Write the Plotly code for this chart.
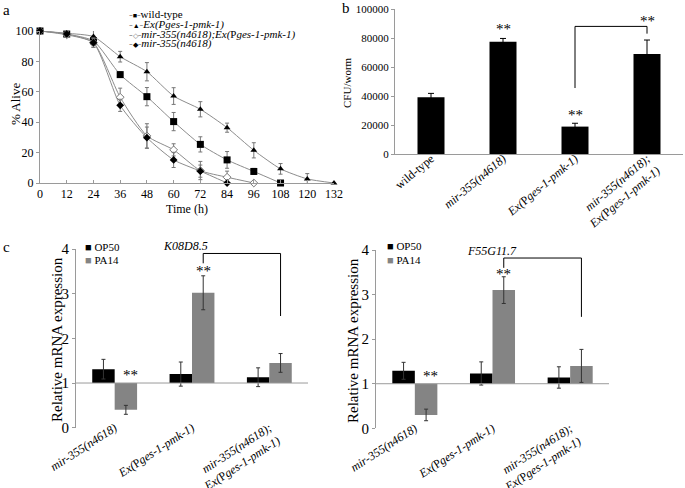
import plotly.graph_objects as go

W, H = 685, 488
FONT = "Liberation Serif"

# ---------------- data ----------------
time_h = [0, 12, 24, 36, 48, 60, 72, 84, 96, 108, 120, 132]
wt_alive = [100, 98, 93.5, 71.3, 56.8, 40.4, 25.4, 15.2, 7.6, 0]
wt_err = [0, 1.5, 3, 1.8, 6, 6, 5, 5.5, 2, 0]
ex_alive = [100, 98.5, 96.3, 83.1, 73.2, 57.2, 48.5, 36.4, 21.5, 9.3, 2.7, 0]
ex_err = [0, 1, 4, 3.5, 6, 5.5, 5, 3, 5, 3.5, 3.5, 0]
mirex_alive = [100, 97.5, 92.3, 56.4, 31, 21.8, 8.2, 3.8, 0]
mirex_err = [0, 1.5, 3, 6, 8, 4, 6, 4, 0]
mir_alive = [100, 98, 92.3, 51.1, 29.8, 15.2, 7.8, 0]
mir_err = [0, 1.5, 3, 4, 7, 5, 4, 0]

b_cats = ["wt", "mir", "ex", "mirex"]
b_labels = ["wild-type", "<i>mir-355(n4618)</i>", "<i>Ex(</i>P<i>ges-1-pmk-1)</i>",
            "<i>mir-355(n4618);</i><br><i>Ex(</i>P<i>ges-1-pmk-1)</i>"]
b_cfu = [39100, 77400, 18900, 69000]
b_err = [2700, 2300, 2300, 9600]

c_cats = ["mir", "ex", "mirex"]
c_labels = ["<i>mir-355(n4618)</i>", "<i>Ex(</i>P<i>ges-1-pmk-1)</i>",
            "<i>mir-355(n4618);</i><br><i>Ex(</i>P<i>ges-1-pmk-1)</i>"]
k08_op50 = [1.31, 1.20, 1.13]
k08_op50_err = [0.22, 0.27, 0.21]
k08_pa14 = [0.40, 3.02, 1.45]
k08_pa14_err = [0.10, 0.38, 0.21]
f55_op50 = [1.29, 1.23, 1.14]
f55_op50_err = [0.19, 0.26, 0.24]
f55_pa14 = [0.30, 3.10, 1.40]
f55_pa14_err = [0.13, 0.30, 0.37]
BASE = 1.0

GRAY = "#848484"
AX = "#9a9a9a"
LINE = "#8c8c8c"


def px(x):
    return x / W


def py(y):
    return 1 - y / H


fig = go.Figure()

# ---------------- panel a ----------------
series_a = [
    ("wild-type", wt_alive, wt_err, dict(symbol="square", size=7, color="black"),
     "■", "black"),
    ("<i>Ex(Pges-1-pmk-1)</i>", ex_alive, ex_err,
     dict(symbol="triangle-up", size=6, color="black"), "▲", "black"),
    ("<i>mir-355(n4618);Ex(</i>P<i>ges-1-pmk-1)</i>", mirex_alive, mirex_err,
     dict(symbol="diamond", size=6, color="white", line=dict(color="#777", width=1)),
     "◇", "#777"),
    ("<i>mir-355(n4618)</i>", mir_alive, mir_err,
     dict(symbol="diamond", size=6, color="black"), "◆", "black"),
]
for name, vals, err, mk, _, _ in series_a:
    fig.add_trace(go.Scatter(
        x=time_h[:len(vals)], y=vals, name=name, mode="lines+markers",
        line=dict(color=LINE, width=1, shape="spline", smoothing=0.6),
        marker=mk, cliponaxis=False, showlegend=False,
        error_y=dict(type="data", array=err, color="#777", thickness=1, width=2),
        xaxis="x", yaxis="y"))

# ---------------- panel b ----------------
fig.add_trace(go.Bar(
    x=b_cats, y=b_cfu, width=0.375, marker=dict(color="black", line=dict(width=0)),
    error_y=dict(type="data", array=b_err, color="black", thickness=1, width=3),
    xaxis="x2", yaxis="y2", showlegend=False))

# ---------------- panel c ----------------
for op, ope, pa, pae, xa, ya in [
        (k08_op50, k08_op50_err, k08_pa14, k08_pa14_err, "x3", "y3"),
        (f55_op50, f55_op50_err, f55_pa14, f55_pa14_err, "x4", "y4")]:
    fig.add_trace(go.Bar(
        x=c_cats, y=[v - BASE for v in op], base=BASE, name="OP50",
        marker=dict(color="black", line=dict(width=0)),
        error_y=dict(type="data", array=ope, color="#333", thickness=1, width=2),
        xaxis=xa, yaxis=ya, showlegend=False, offsetgroup="op"))
    fig.add_trace(go.Bar(
        x=c_cats, y=[v - BASE for v in pa], base=BASE, name="PA14",
        marker=dict(color=GRAY, line=dict(width=0)),
        error_y=dict(type="data", array=pae, color="#333", thickness=1, width=2),
        xaxis=xa, yaxis=ya, showlegend=False, offsetgroup="pa"))

tickfont_a = dict(family=FONT, size=12, color="black")
axcommon = dict(showline=True, linecolor=AX, linewidth=1, ticks="outside",
                ticklen=3, tickcolor=AX, showgrid=False, zeroline=False,
                automargin=False)

fig.update_layout(
    template="none",
    width=W, height=H, margin=dict(l=0, r=0, t=0, b=0, pad=0),
    paper_bgcolor="white", plot_bgcolor="rgba(0,0,0,0)",
    font=dict(family=FONT, color="black"),
    barmode="group", bargap=0.42, bargroupgap=0, showlegend=False,
    hovermode=False,
    xaxis=dict(domain=[px(40), px(334)], range=[0, 132], tickvals=time_h,
               anchor="y", tickfont=tickfont_a, showline=True, linecolor=AX,
               ticks="inside", ticklen=3, tickcolor=AX, showgrid=False, zeroline=False,
               automargin=False),
    yaxis=dict(domain=[py(183), py(31)], range=[0, 100], dtick=20,
               anchor="x", tickfont=tickfont_a, **axcommon),
    xaxis2=dict(domain=[px(395), px(683)], anchor="y2", tickvals=b_cats, ticktext=b_labels,
                tickangle=-40, tickfont=dict(family=FONT, size=12), ticklabelstandoff=-8,
                showline=True, linecolor=AX, ticks="", showgrid=False, automargin=False),
    yaxis2=dict(domain=[py(154), py(9)], range=[0, 100000], dtick=20000, anchor="x2",
                tickformat="d", tickfont=dict(family=FONT, size=11), **axcommon),
    xaxis3=dict(domain=[px(76), px(308)], anchor="y3", tickvals=c_cats, ticktext=c_labels,
                tickangle=-33, tickfont=dict(family=FONT, size=12), ticklabelstandoff=-10,
                showline=False, ticks="", showgrid=False, automargin=False),
    yaxis3=dict(domain=[py(427.7), py(249)], range=[0, 4], dtick=1, anchor="x3",
                tickfont=dict(family=FONT, size=15), **axcommon),
    xaxis4=dict(domain=[px(376), px(609)], anchor="y4", tickvals=c_cats, ticktext=c_labels,
                tickangle=-33, tickfont=dict(family=FONT, size=12), ticklabelstandoff=-10,
                showline=False, ticks="", showgrid=False, automargin=False),
    yaxis4=dict(domain=[py(428.3), py(250)], range=[0, 4], dtick=1, anchor="x4",
                tickfont=dict(family=FONT, size=15), **axcommon),
)

# baseline lines at y=1 for panel c
for xa, ya in [("x3", "y3"), ("x4", "y4")]:
    fig.add_shape(type="line", xref=f"{xa} domain", yref=ya, x0=0, x1=1, y0=BASE, y1=BASE,
                  line=dict(color=AX, width=1))


# significance brackets
def bracket(xref, yref, xl, xr, yl, ytop, yr):
    fig.add_shape(type="path", xref=xref, yref=yref,
                  path=f"M {xl},{yl} L {xl},{ytop} L {xr},{ytop} L {xr},{yr}",
                  line=dict(color="black", width=1))


bracket("x2", "y2", 2, 3, 45500, 88000, 83000)
bracket("x3", "y3", 1 + 0.145, 2 + 0.145, 3.68, 3.9, 2.5)
bracket("x4", "y4", 1 + 0.145, 2 + 0.145, 3.6, 3.82, 2.5)

ann = []


def star(xref, yref, x, y):
    ann.append(dict(text="**", xref=xref, yref=yref, x=x, y=y, showarrow=False,
                    font=dict(family=FONT, size=15, color="black"), yanchor="middle"))


star("x2", "y2", 1, 86000)
star("x2", "y2", 2, 27000)
star("x2", "y2", 3, 91500)
star("x3", "y3", 0 + 0.2, 1.17)
star("x3", "y3", 1 + 0.145, 3.5)
star("x4", "y4", 0 + 0.2, 1.17)
star("x4", "y4", 1 + 0.145, 3.46)


def text(t, x, y, size, angle=0, xanchor="center", italic=False):
    ann.append(dict(text=f"<i>{t}</i>" if italic else t, xref="paper", yref="paper",
                    x=px(x), y=py(y), showarrow=False, textangle=angle,
                    xanchor=xanchor, yanchor="middle",
                    font=dict(family=FONT, size=size, color="black")))


text("a", 6, 10, 15)
text("b", 346, 8, 15)
text("c", 6, 247, 15)
text("% Alive", 15, 104, 13, angle=-90)
text("Time (h)", 187, 209, 12)
text("CFU/worm", 347, 83, 11, angle=-90)
text("Relative mRNA expression", 57, 340, 15, angle=-90)
text("Relative mRNA expression", 353, 340, 15, angle=-90)
text("K08D8.5", 185, 246, 12, italic=True)
text("F55G11.7", 492, 251, 12, italic=True)
for lx, y1, y2 in [(83, 247, 260), (385, 246, 260)]:
    text("<span style='color:black'>■</span> OP50", lx, y1, 11, xanchor="left")
    text(f"<span style='color:{GRAY}'>■</span> PA14", lx, y2, 11, xanchor="left")

# legend of panel a (text entries)
for i, (name, _, _, _, glyph, gcol) in enumerate(series_a):
    t = (f"<span style='color:{LINE}'>-</span>"
         f"<span style='color:{gcol};font-size:7px'>{glyph}</span>"
         f"<span style='color:{LINE}'>-</span>{name}")
    text(t, 127, 14 + 10 * i, 11, xanchor="left")

fig.update_layout(annotations=ann)
# remove the default 8px body margin of the page so the figure fills the window
fig.write_html("out.html", config={"displayModeBar": False},
               post_script="document.body.style.margin='0px';")
